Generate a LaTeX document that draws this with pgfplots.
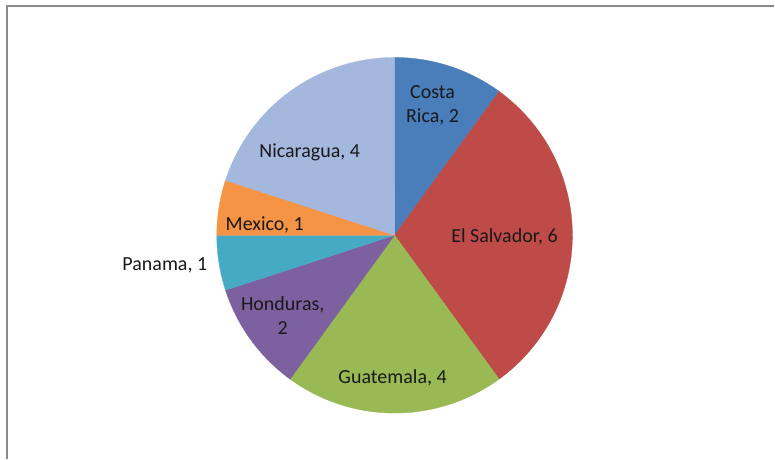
\documentclass[border=0pt]{standalone}
\usepackage{pgfplots}
\pgfplotsset{compat=1.18}
\usepackage{pgfplotstable}
\usepackage{fontspec}
\setmainfont{Carlito}
\definecolor{c0}{HTML}{4A7EBB}
\definecolor{c1}{HTML}{BE4B48}
\definecolor{c2}{HTML}{98B954}
\definecolor{c3}{HTML}{7D60A0}
\definecolor{c4}{HTML}{46AAC5}
\definecolor{c5}{HTML}{F69446}
\definecolor{c6}{HTML}{A4B7DC}
\definecolor{framegray}{HTML}{8A8A8A}
\pgfplotstableread[col sep=comma]{
name,value
Costa Rica,2
El Salvador,6
Guatemala,4
Honduras,2
Panama,1
Mexico,1
Nicaragua,4
}\piedata
\begin{document}
\begin{tikzpicture}
\begin{axis}[
  scale only axis, width=775bp, height=459bp,
  xmin=0, xmax=775, ymin=0, ymax=459, y dir=reverse,
  hide axis, clip=false,
]
\path[fill=white] (axis cs:0,0) rectangle (axis cs:775,459);
\draw[framegray, line width=1.6bp] (axis cs:7,459) -- (axis cs:7,6) -- (axis cs:775,6);
\gdef\cur{90}
\pgfplotsforeachungrouped \i in {0,...,6}{%
  \pgfplotstablegetelem{\i}{value}\of\piedata
  \pgfmathsetmacro\a{\cur}%
  \pgfmathsetmacro\b{\cur-\pgfplotsretval*18}%
  \edef\temp{\noexpand\addplot[fill=c\i, draw=c\i, line width=0.3bp, domain=\b:\a, samples=90, variable=\noexpand\t] ({395+178*cos(\noexpand\t)},{235.5-178*sin(\noexpand\t)}) -- (axis cs:395,235.5) -- cycle;}%
  \temp
  \xdef\cur{\b}%
}
\tikzset{lbl/.style={font=\fontsize{20bp}{24bp}\selectfont, text=black!90, align=center, inner sep=0pt}}
\node[lbl] at (axis cs:433,105) {Costa\\Rica, 2};
\node[lbl] at (axis cs:505,237) {El Salvador, 6};
\node[lbl] at (axis cs:393,378) {Guatemala, 4};
\node[lbl] at (axis cs:283,316) {Honduras,\\2};
\node[lbl] at (axis cs:165,266) {Panama, 1};
\node[lbl] at (axis cs:265,225) {Mexico, 1};
\node[lbl] at (axis cs:310,153) {Nicaragua, 4};
\end{axis}
\end{tikzpicture}
\end{document}
